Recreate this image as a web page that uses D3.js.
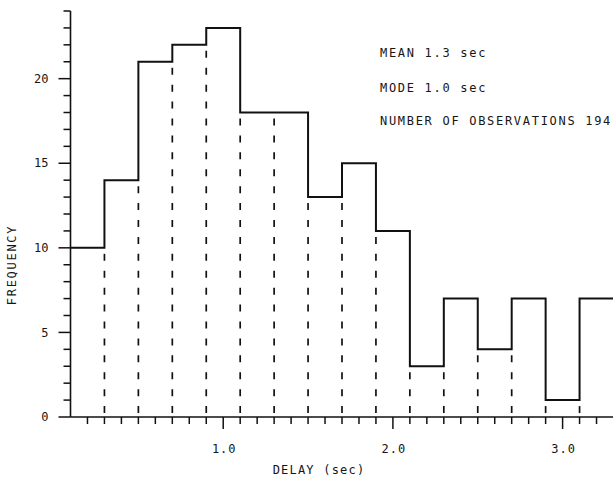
<!DOCTYPE html>
<html>
<head>
<meta charset="utf-8">
<script src="https://cdn.jsdelivr.net/npm/d3@7"></script>
<style>
  body { margin: 0; background: #fff; }
  text { font-family: "DejaVu Sans Mono", "Liberation Mono", monospace; fill: #161616; }
</style>
</head>
<body>
<div id="chart"></div>
<script>
// delay histogram, bins of 0.2 sec
var binStart = [0.1, 0.3, 0.5, 0.7, 0.9, 1.1, 1.3, 1.5, 1.7, 1.9, 2.1, 2.3, 2.5, 2.7, 2.9, 3.1];
var binEnd = 3.3;
var frequency = [10, 14, 21, 22, 23, 18, 18, 13, 15, 11, 3, 7, 4, 7, 1, 7];
var yTicks = [0, 5, 10, 15, 20];
var xTicks = [1, 2, 3];
var xTickLabels = ["1.0", "2.0", "3.0"];
var notes = ["MEAN 1.3 sec", "MODE 1.0 sec", "NUMBER OF OBSERVATIONS 194"];

var width = 613, height = 481;

var svg = d3.select("#chart")
    .append("svg")
    .attr("width", width)
    .attr("height", height);

var x = d3.scaleLinear()
    .domain([0.1, 3.3])
    .range([70.5, 613.5]);

var y = d3.scaleLinear()
    .domain([0, 24])
    .range([417, 11]);

var ink = "#111";

// minor ticks every 0.1 sec / every unit
var xMinor = d3.range(2, 33).map(function (d) { return d / 10; });
var yMinor = d3.range(0, 25);

// x axis
var xAxis = svg.append("g")
    .attr("transform", "translate(0," + y(0) + ")");
xAxis.append("line")
    .attr("x1", x(0.1)).attr("x2", width)
    .attr("stroke", ink).attr("stroke-width", 1.6);
xAxis.selectAll(".xminor")
    .data(xMinor)
    .enter().append("line")
    .attr("x1", function (d) { return x(d); })
    .attr("x2", function (d) { return x(d); })
    .attr("y1", 0)
    .attr("y2", function (d) { return Math.abs(d - Math.round(d)) < 1e-6 ? 12 : 7; })
    .attr("stroke", ink).attr("stroke-width", 1.5);
xAxis.selectAll(".xlab")
    .data(xTicks)
    .enter().append("text")
    .attr("x", function (d) { return x(d) + 1; })
    .attr("y", 36)
    .attr("text-anchor", "middle")
    .style("font-size", "12px")
    .style("letter-spacing", "1px")
    .text(function (d, i) { return xTickLabels[i]; });

svg.append("text")
    .attr("x", 319)
    .attr("y", 474)
    .attr("text-anchor", "middle")
    .style("font-size", "12px")
    .style("letter-spacing", "1.2px")
    .text("DELAY (sec)");

// y axis
var yAxis = svg.append("g")
    .attr("transform", "translate(" + x(0.1) + ",0)");
yAxis.append("line")
    .attr("y1", y(24)).attr("y2", y(0))
    .attr("stroke", ink).attr("stroke-width", 1.6);
yAxis.selectAll(".yminor")
    .data(yMinor)
    .enter().append("line")
    .attr("y1", function (d) { return y(d); })
    .attr("y2", function (d) { return y(d); })
    .attr("x1", function (d) { return d % 5 === 0 ? -12 : -7; })
    .attr("x2", 0)
    .attr("stroke", ink).attr("stroke-width", 1.5);
yAxis.selectAll(".ylab")
    .data(yTicks)
    .enter().append("text")
    .attr("x", -22)
    .attr("y", function (d) { return y(d); })
    .attr("dy", "0.35em")
    .attr("text-anchor", "end")
    .style("font-size", "12px")
    .text(function (d) { return d; });

svg.append("text")
    .attr("transform", "translate(16,265) rotate(-90)")
    .attr("text-anchor", "middle")
    .style("font-size", "12px")
    .style("letter-spacing", "1.7px")
    .text("FREQUENCY");

// dashed bin edges, up to the lower of the two neighbours
var unit = y(0) - y(1);
svg.selectAll(".edge")
    .data(binStart.slice(1))
    .enter().append("line")
    .attr("x1", function (d) { return x(d); })
    .attr("x2", function (d) { return x(d); })
    .attr("y1", y(0))
    .attr("y2", function (d, i) { return y(Math.min(frequency[i], frequency[i + 1])); })
    .attr("stroke", ink)
    .attr("stroke-width", 1.7)
    .attr("stroke-dasharray", "7," + (unit - 7))
    .attr("stroke-dashoffset", -(unit - 13));

// histogram outline
var steps = binStart.map(function (d, i) { return { x: d, y: frequency[i] }; });
steps.push({ x: binEnd, y: frequency[frequency.length - 1] });

svg.append("path")
    .datum(steps)
    .attr("fill", "none")
    .attr("stroke", ink)
    .attr("stroke-width", 2)
    .attr("d", d3.line()
        .curve(d3.curveStepAfter)
        .x(function (d) { return x(d.x); })
        .y(function (d) { return y(d.y); })
    );

// summary text
svg.selectAll(".note")
    .data(notes)
    .enter().append("text")
    .attr("x", 380)
    .attr("y", function (d, i) { return [57, 92, 125][i]; })
    .style("font-size", "12px")
    .style("letter-spacing", "1.7px")
    .text(function (d) { return d; });
</script>
</body>
</html>
